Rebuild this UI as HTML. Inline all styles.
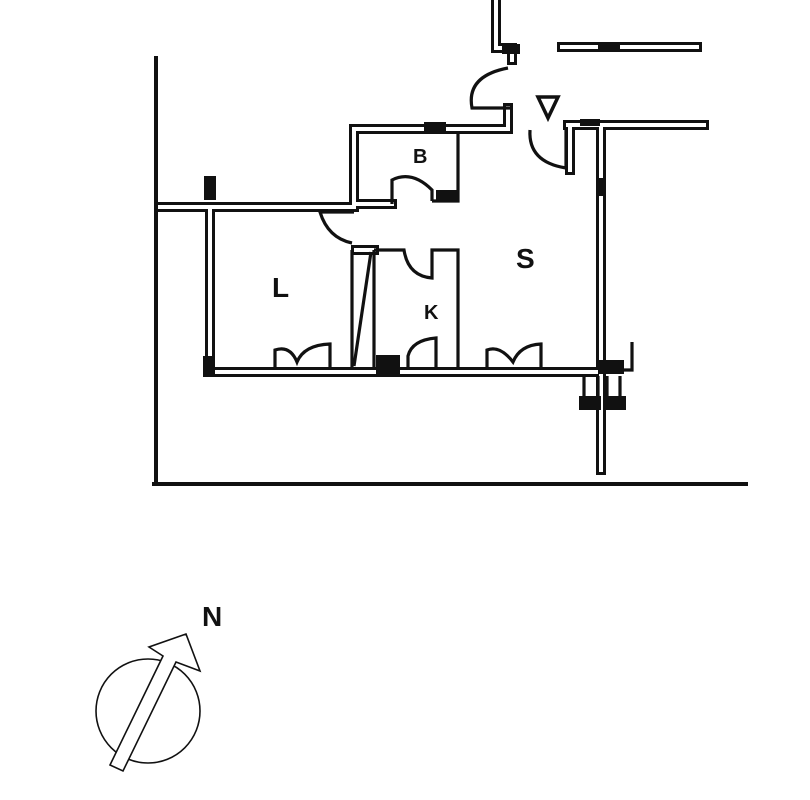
<!DOCTYPE html>
<html><head><meta charset="utf-8"><style>
html,body{margin:0;padding:0;background:#fff;}
svg{display:block;}
text{font-family:"Liberation Sans",sans-serif;font-weight:bold;fill:#111;}
</style></head><body>
<svg width="810" height="800" viewBox="0 0 810 800" xmlns="http://www.w3.org/2000/svg">
<defs>
<g id="walls" fill="none" stroke-linejoin="miter" stroke-linecap="square">
  <path d="M160 207 H354 V130"/>
  <path d="M354 129 H508 V108"/>
  <path d="M496 0 V48 H512 V60"/>
  <path d="M568 125 H704"/>
  <path d="M570 125 V170"/>
  <path d="M601 127 V470"/>
  <path d="M210 210 V372"/>
  <path d="M208 372 H600"/>
  <path d="M562 47 H697"/>
  <path d="M356 204 H392"/>
  <path d="M356 250 H374"/>
</g>
</defs>
<line x1="156" y1="56" x2="156" y2="486" stroke="#111" stroke-width="4"/>
<line x1="152" y1="484" x2="748" y2="484" stroke="#111" stroke-width="4"/>
<use href="#walls" stroke="#111" stroke-width="10"/>
<use href="#walls" stroke="#fff" stroke-width="4"/>
<g fill="none" stroke="#111" stroke-width="3.2">
  <path d="M458 131 V201 H432"/>
  <path d="M392 204 V180 Q412 170 432 190 V201"/>
  <path d="M354 212 H320 Q328 238 352 243"/>
  <path d="M374 250 H404 Q408 276 432 278 V250 H458 V370"/>
  <path d="M374 250 V368"/>
  <path d="M352 250 V368"/>
  <path d="M371 252 L354 366"/>
  <path d="M408 370 V356 Q412 340 436 338 V370"/>
  <path d="M275 370 V350 Q290 345 297 362 Q304 345 330 344 V370"/>
  <path d="M487 370 V350 Q500 345 513 362 Q520 345 541 344 V370"/>
  <path d="M510 108 H472 Q466 76 508 68"/>
  <path d="M530 130 Q528 162 566 168 V128"/>
  <path d="M632 342 V370 H614"/>
  <path d="M584 376 V396 M598 376 V396 M607 376 V396 M620 376 V396"/>
</g>
<g fill="#111">
  <rect x="424" y="122" width="22" height="9"/>
  <rect x="580" y="119" width="20" height="7"/>
  <rect x="204" y="176" width="12" height="24"/>
  <rect x="203" y="356" width="12" height="20"/>
  <rect x="376" y="355" width="24" height="20"/>
  <rect x="598" y="178" width="8" height="18"/>
  <rect x="598" y="360" width="26" height="14"/>
  <rect x="579" y="396" width="22" height="14"/>
  <rect x="604" y="396" width="22" height="14"/>
  <rect x="436" y="190" width="22" height="11"/>
  <rect x="598" y="43" width="22" height="8"/>
  <rect x="502" y="44" width="18" height="10"/>
</g>
<text x="413" y="163" font-size="20">B</text>
<text x="516" y="268" font-size="28">S</text>
<text x="272" y="297" font-size="28">L</text>
<text x="424" y="319" font-size="20">K</text>
<path d="M538 97 H558 L548 118 Z" fill="none" stroke="#111" stroke-width="3.5"/>
<circle cx="148" cy="711" r="52" fill="none" stroke="#111" stroke-width="1.6"/>
<path d="M110 765 L163 656 L149 647 L186 634 L200 671 L176 662 L123 771 Z" fill="#fff" stroke="#111" stroke-width="1.6" stroke-linejoin="miter"/>
<text x="202" y="626" font-size="28" font-weight="normal">N</text>
</svg>
</body></html>
